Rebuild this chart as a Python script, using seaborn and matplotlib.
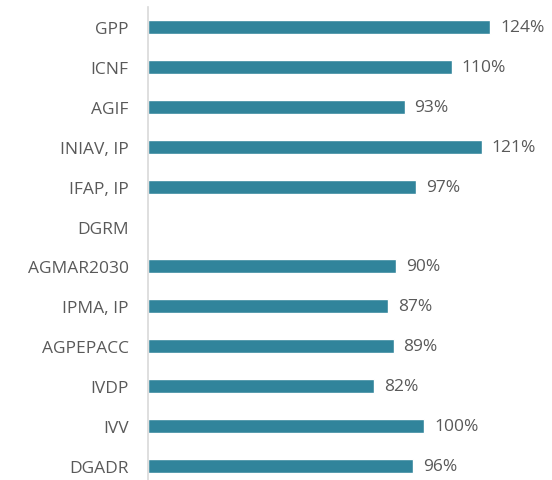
import matplotlib
matplotlib.use("Agg")
import matplotlib.pyplot as plt
import seaborn as sns
import pandas as pd

# Data
entities = ["GPP", "ICNF", "AGIF", "INIAV, IP", "IFAP, IP", "DGRM",
            "AGMAR2030", "IPMA, IP", "AGPEPACC", "IVDP", "IVV", "DGADR"]
values = [124, 110, 93, 121, 97, None, 90, 87, 89, 82, 100, 96]

df = pd.DataFrame({"Entity": entities, "Value": values})

sns.set_theme(style="white")
plt.rcParams["font.family"] = ["Open Sans", "DejaVu Sans"]

fig = plt.figure(figsize=(5.52, 4.81), dpi=100)
ax = fig.add_axes([148 / 552, 0, 400 / 552, 473 / 481])

bar_color = "#31849B"
text_color = "#595959"

sns.barplot(data=df, x="Value", y="Entity", order=entities, color=bar_color,
            width=0.35, saturation=1, ax=ax)

for i, v in enumerate(values):
    if v is not None:
        ax.text(v + 3.6, i, f"{v}%", va="center", ha="left",
                fontsize=12.5, color=text_color)

ax.set_xlim(0, 400 / 2.76)
ax.set_ylim(11.35, -0.5)
ax.set_xlabel("")
ax.set_ylabel("")
ax.set_xticks([])
ax.tick_params(axis="y", length=0, pad=14, labelsize=12.5, labelcolor=text_color)

for side in ["top", "right", "bottom"]:
    ax.spines[side].set_visible(False)
ax.spines["left"].set_color("#D9D9D9")
ax.spines["left"].set_linewidth(1.2)

fig.savefig("out.png", dpi=100)
plt.close(fig)
